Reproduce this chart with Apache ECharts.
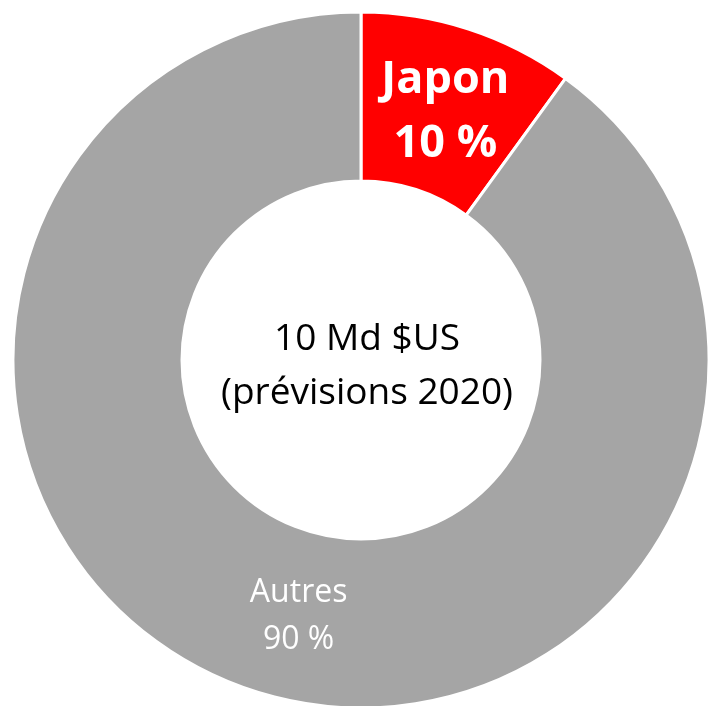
<!DOCTYPE html>
<html><head><meta charset="utf-8">
<script src="https://cdn.jsdelivr.net/npm/echarts@6/dist/echarts.min.js"></script>
<style>html,body{margin:0;padding:0;background:#fff}#c{width:710px;height:706px}</style>
</head><body><div id="c"></div>
<script>
const categories = ['Japon', 'Autres'];
const values = [10, 90];
const pctLabels = ['10 %', '90 %'];
const colors = ['#FF0000', '#A5A5A5'];
const centerLines = ['10 Md $US', '(prévisions 2020)'];

const chart = echarts.init(document.getElementById('c'));
const font = '"Open Sans", "Liberation Sans", sans-serif';
chart.setOption({
  animation: false,
  series: [{
    type: 'pie',
    center: [361, 360],
    radius: [179, 348],
    startAngle: 90,
    clockwise: true,
    silent: true,
    data: categories.map((c, i) => ({
      name: c, value: values[i],
      itemStyle: { color: colors[i], borderColor: '#fff', borderWidth: 3 },
      label: i === 0 ? {
        formatter: '{b|' + c + '}\n{b|' + pctLabels[i] + '}',
        rich: { b: { fontFamily: font, fontWeight: 'bold', fontSize: 45, color: '#fff', lineHeight: 64 } }
      } : {
        formatter: '{a|' + c + '}\n{a|' + pctLabels[i] + '}',
        rich: { a: { fontFamily: font, fontSize: 32, color: '#fff', lineHeight: 47 } }
      }
    })),
    label: { show: true, position: 'inside' },
    labelLayout: function (p) {
      if (p.dataIndex === 0) return { dx: 2, dy: 6 };
      return { dx: 20, dy: 3 };
    },
    labelLine: { show: false }
  }],
  graphic: [{
    type: 'text',
    x: 367, y: 366,
    style: {
      text: centerLines.join('\n'),
      fontFamily: font, fontSize: 37, lineHeight: 54,
      fill: '#000', align: 'center', verticalAlign: 'middle'
    }
  }]
});
</script></body></html>
